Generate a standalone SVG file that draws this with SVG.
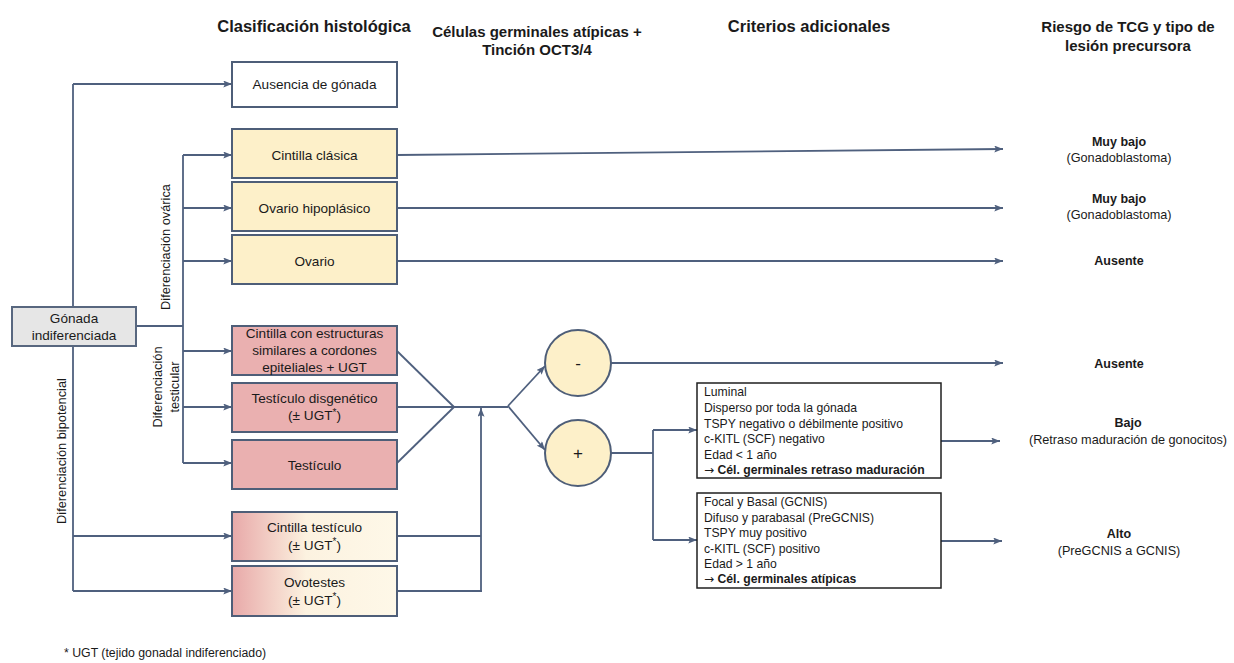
<svg xmlns="http://www.w3.org/2000/svg" width="1234" height="663" viewBox="0 0 1234 663">
<defs>
<marker id="ah" viewBox="0 0 10 8" refX="10" refY="4" markerWidth="9" markerHeight="7" markerUnits="userSpaceOnUse" orient="auto">
<path d="M0,0 L10,4 L0,8 L2,4 Z" fill="#4F607E"/>
</marker>
<linearGradient id="bip" x1="0" y1="0" x2="1" y2="0">
<stop offset="0" stop-color="#E8A9A9"/>
<stop offset="0.45" stop-color="#FCF2E0"/>
<stop offset="1" stop-color="#FEF8E8"/>
</linearGradient>
<style>
text{font-family:"Liberation Sans",Arial,sans-serif;fill:#1a1a1a}
.h{font-size:15px;font-weight:bold;text-anchor:middle}
.h2{font-size:16.5px;font-weight:bold;text-anchor:middle}
.b{font-size:13.6px;text-anchor:middle}
.lb{font-size:12.8px;text-anchor:middle}
.ob{font-size:12.5px;font-weight:bold;text-anchor:middle}
.os{font-size:12.7px;text-anchor:middle}
.cr{font-size:12.2px}
.crb{font-size:12.2px;font-weight:bold}
.arr{font-family:"DejaVu Sans",sans-serif;font-size:12px;font-weight:normal}
.sup{font-size:10px}
.box{stroke:#4E5E78;stroke-width:2}
.wh{fill:#FFFFFF}
.ov{fill:#FDF0C9}
.te{fill:#EAB0B0}
.bp{fill:url(#bip)}
.gn{fill:#E6E6E6;stroke:#58677F;stroke-width:2}
.cb{fill:#FFFFFF;stroke:#1f1f1f;stroke-width:1.5}
.ci{fill:#FDF0C9;stroke:#4E5E78;stroke-width:2}
.ln{fill:none;stroke:#4F607E;stroke-width:1.8}
.ar{marker-end:url(#ah)}
</style>
</defs>

<g id="headers">
<text class="h2" x="314" y="32">Clasificación histológica</text>
<text class="h" x="537" y="37">Células germinales atípicas +</text>
<text class="h" x="537" y="55">Tinción OCT3/4</text>
<text class="h2" x="809" y="32">Criterios adicionales</text>
<text class="h" x="1128" y="32">Riesgo de TCG y tipo de</text>
<text class="h" x="1128" y="51">lesión precursora</text>
</g>

<g id="connectors">
<path class="ln" d="M73,307 V84"/>
<path class="ln ar" d="M73,84 H232"/>
<path class="ln" d="M73,346 V591"/>
<path class="ln ar" d="M73,536 H232"/>
<path class="ln ar" d="M73,591 H232"/>
<path class="ln" d="M136,326 H183"/>
<path class="ln" d="M183,155 V463"/>
<path class="ln ar" d="M183,155 H232"/>
<path class="ln ar" d="M183,208 H232"/>
<path class="ln ar" d="M183,261 H232"/>
<path class="ln ar" d="M183,351 H232"/>
<path class="ln ar" d="M183,407 H232"/>
<path class="ln ar" d="M183,463 H232"/>
<path class="ln ar" d="M397,155 L1003,149"/>
<path class="ln ar" d="M397,208 H1003"/>
<path class="ln ar" d="M397,261 H1003"/>
<path class="ln" d="M397,351 L454,407"/>
<path class="ln" d="M397,407 H454"/>
<path class="ln" d="M397,463 L454,407"/>
<path class="ln" d="M454,407 H508"/>
<path class="ln" d="M397,536 H481"/>
<path class="ln" d="M397,591 H481 V592"/>
<path class="ln ar" d="M481,592 V408"/>
<path class="ln ar" d="M508,406 L545,366"/>
<path class="ln ar" d="M508,406 L545,450"/>
<path class="ln ar" d="M611,363 H1003"/>
<path class="ln" d="M611,453 H653"/>
<path class="ln" d="M653,430 V540"/>
<path class="ln ar" d="M653,430 H697"/>
<path class="ln ar" d="M653,540 H697"/>
<path class="ln ar" d="M941,441 H1000"/>
<path class="ln ar" d="M941,541 H1002"/>
</g>

<g id="node-ausencia">
<rect class="box wh" x="232" y="62" width="165" height="45"/>
<text class="b" x="314.5" y="89">Ausencia de gónada</text>
</g>
<g id="node-cintilla-clasica">
<rect class="box ov" x="232" y="129" width="165" height="49"/>
<text class="b" x="314.5" y="159.5">Cintilla clásica</text>
</g>
<g id="node-ovario-hipoplasico">
<rect class="box ov" x="232" y="182" width="165" height="49"/>
<text class="b" x="314.5" y="212.5">Ovario hipoplásico</text>
</g>
<g id="node-ovario">
<rect class="box ov" x="232" y="235" width="165" height="49"/>
<text class="b" x="314.5" y="265.5">Ovario</text>
</g>
<g id="node-gonada">
<rect class="gn" x="12" y="307" width="124" height="39"/>
<text class="b" x="74" y="323">Gónada</text>
<text class="b" x="74" y="340">indiferenciada</text>
</g>
<g id="node-cintilla-estructuras">
<rect class="box te" x="232" y="326" width="165" height="49"/>
<text class="b" x="314.5" y="338">Cintilla con estructuras</text>
<text class="b" x="314.5" y="355">similares a cordones</text>
<text class="b" x="314.5" y="372">epiteliales + UGT</text>
</g>
<g id="node-testiculo-disgenetico">
<rect class="box te" x="232" y="383" width="165" height="49"/>
<text class="b" x="314.5" y="403">Testículo disgenético</text>
<text class="b" x="314.5" y="420">(± UGT<tspan class="sup" dy="-4">*</tspan><tspan dy="4">)</tspan></text>
</g>
<g id="node-testiculo">
<rect class="box te" x="232" y="440" width="165" height="49"/>
<text class="b" x="314.5" y="470">Testículo</text>
</g>
<g id="node-cintilla-testiculo">
<rect class="box bp" x="232" y="512" width="165" height="49"/>
<text class="b" x="314.5" y="532">Cintilla testículo</text>
<text class="b" x="314.5" y="550">(± UGT<tspan class="sup" dy="-5">*</tspan><tspan dy="5">)</tspan></text>
</g>
<g id="node-ovotestes">
<rect class="box bp" x="232" y="566" width="165" height="50"/>
<text class="b" x="314.5" y="587">Ovotestes</text>
<text class="b" x="314.5" y="605">(± UGT<tspan class="sup" dy="-5">*</tspan><tspan dy="5">)</tspan></text>
</g>

<g id="labels-branches">
<text class="lb" transform="translate(170,247) rotate(-90)">Diferenciación ovárica</text>
<text class="lb" transform="translate(162,387) rotate(-90)">Diferenciación</text>
<text class="lb" transform="translate(179,387) rotate(-90)">testicular</text>
<text class="lb" transform="translate(66,451) rotate(-90)">Diferenciación bipotencial</text>
</g>

<g id="node-negativo">
<circle class="ci" cx="578" cy="363" r="33"/>
<text x="578" y="369" style="font-size:17px;text-anchor:middle">-</text>
</g>
<g id="node-positivo">
<circle class="ci" cx="578" cy="453" r="33"/>
<text x="578" y="459" style="font-size:17px;text-anchor:middle">+</text>
</g>

<g id="node-criterios-bajo">
<rect class="cb" x="697" y="383" width="244" height="95"/>
<text class="cr" x="704" y="396">Luminal</text>
<text class="cr" x="704" y="412">Disperso por toda la gónada</text>
<text class="cr" x="704" y="428">TSPY negativo o débilmente positivo</text>
<text class="cr" x="704" y="443">c-KITL (SCF) negativo</text>
<text class="cr" x="704" y="459">Edad &lt; 1 año</text>
<text class="crb" x="704" y="474"><tspan class="arr">→</tspan> Cél. germinales retraso maduración</text>
</g>
<g id="node-criterios-alto">
<rect class="cb" x="697" y="493" width="244" height="95"/>
<text class="cr" x="704" y="506">Focal y Basal (GCNIS)</text>
<text class="cr" x="704" y="522">Difuso y parabasal (PreGCNIS)</text>
<text class="cr" x="704" y="537">TSPY muy positivo</text>
<text class="cr" x="704" y="553">c-KITL (SCF) positivo</text>
<text class="cr" x="704" y="568">Edad &gt; 1 año</text>
<text class="crb" x="704" y="583"><tspan class="arr">→</tspan> Cél. germinales atípicas</text>
</g>

<g id="outcomes">
<text class="ob" x="1119" y="146">Muy bajo</text>
<text class="os" x="1119" y="162">(Gonadoblastoma)</text>
<text class="ob" x="1119" y="203">Muy bajo</text>
<text class="os" x="1119" y="219">(Gonadoblastoma)</text>
<text class="ob" x="1119" y="265">Ausente</text>
<text class="ob" x="1119" y="368">Ausente</text>
<text class="ob" x="1128" y="427">Bajo</text>
<text class="os" x="1128" y="444">(Retraso maduración de gonocitos)</text>
<text class="ob" x="1119" y="538">Alto</text>
<text class="os" x="1119" y="555">(PreGCNIS a GCNIS)</text>
</g>

<g id="footnote">
<text x="64" y="657" style="font-size:12.3px">* UGT (tejido gonadal indiferenciado)</text>
</g>
</svg>
